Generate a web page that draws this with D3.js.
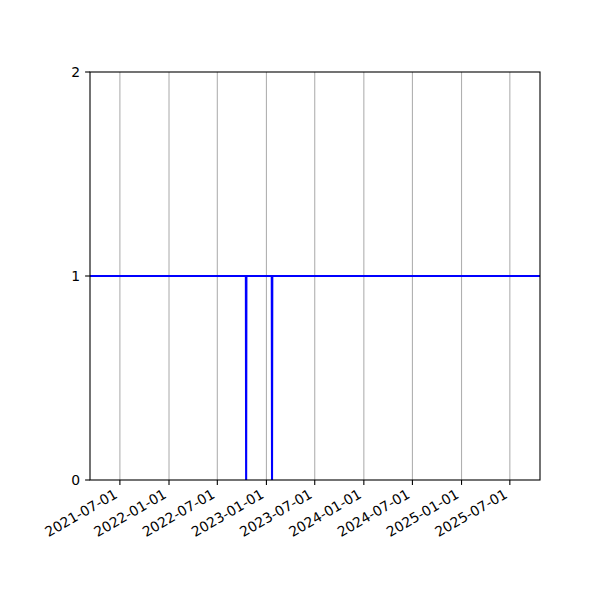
<!DOCTYPE html>
<html>
<head>
<meta charset="utf-8">
<script src="https://cdn.jsdelivr.net/npm/d3@7"></script>
<style>
  body { margin: 0; background: #fff; }
  svg text { font-family: "DejaVu Sans", sans-serif; font-size: 13.9px; fill: #000; }
</style>
</head>
<body>
<svg id="chart" width="600" height="600"></svg>
<script>
// series: flat at 1 with two one-day dips to 0
const dates = ["2021-03-11", "2022-10-16", "2022-10-17", "2022-10-18",
               "2023-01-21", "2023-01-22", "2023-01-23", "2025-10-22"];
const values = [1, 1, 0, 1, 1, 0, 1, 1];
const xTicks = ["2021-07-01", "2022-01-01", "2022-07-01", "2023-01-01", "2023-07-01",
                "2024-01-01", "2024-07-01", "2025-01-01", "2025-07-01"];
const yTicks = [0, 1, 2];
const xLimits = ["2021-03-11", "2025-10-22"];

const parse = d3.utcParse("%Y-%m-%d");
const data = dates.map((d, i) => ({ date: parse(d), value: values[i] }));

const margin = { left: 90, right: 60, top: 72, bottom: 120 };
const width = 600, height = 600;
const svg = d3.select("#chart");

const x = d3.scaleUtc()
  .domain(xLimits.map(parse))
  .range([margin.left, width - margin.right]);
const y = d3.scaleLinear().domain([0, 2]).range([height - margin.bottom, margin.top]);

// vertical grid
svg.append("g").selectAll("line").data(xTicks).enter().append("line")
  .attr("x1", d => x(parse(d))).attr("x2", d => x(parse(d)))
  .attr("y1", y(0)).attr("y2", y(2))
  .attr("stroke", "#b0b0b0").attr("stroke-width", 1.1);

// data line
const line = d3.line().x(d => x(d.date)).y(d => y(d.value));
svg.append("path").datum(data)
  .attr("d", line).attr("fill", "none")
  .attr("stroke", "#0000ff").attr("stroke-width", 2.1);

// frame
svg.append("rect")
  .attr("x", margin.left).attr("y", margin.top)
  .attr("width", width - margin.left - margin.right)
  .attr("height", height - margin.top - margin.bottom)
  .attr("fill", "none").attr("stroke", "#000").attr("stroke-width", 1.1);

// x axis ticks + rotated labels
const xg = svg.append("g");
xg.selectAll("line").data(xTicks).enter().append("line")
  .attr("x1", d => x(parse(d))).attr("x2", d => x(parse(d)))
  .attr("y1", y(0)).attr("y2", y(0) + 4.9)
  .attr("stroke", "#000").attr("stroke-width", 1.1);
xg.selectAll("text").data(xTicks).enter().append("text")
  .attr("text-anchor", "end")
  .attr("transform", d => `translate(${x(parse(d)) - 1.5},${y(0) + 17}) rotate(-30)`)
  .text(d => d);

// y axis
const yg = svg.append("g");
yg.selectAll("line").data(yTicks).enter().append("line")
  .attr("x1", margin.left - 4.9).attr("x2", margin.left)
  .attr("y1", d => y(d)).attr("y2", d => y(d))
  .attr("stroke", "#000").attr("stroke-width", 1.1);
yg.selectAll("text").data(yTicks).enter().append("text")
  .attr("text-anchor", "end").attr("dominant-baseline", "central")
  .attr("x", margin.left - 9.8).attr("y", d => y(d))
  .text(d => d);
</script>
</body>
</html>
